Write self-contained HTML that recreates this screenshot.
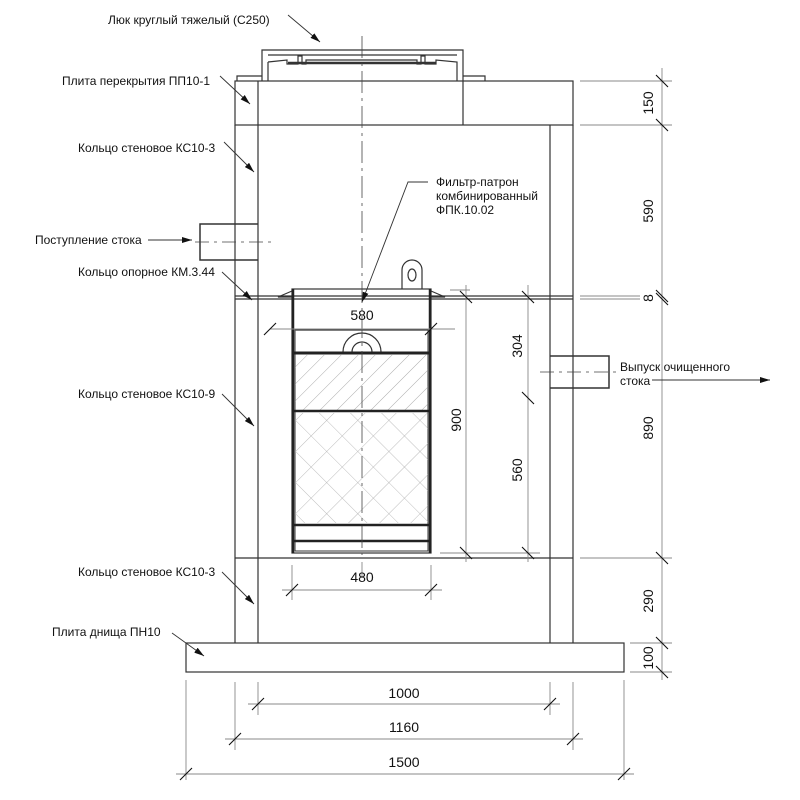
<!DOCTYPE html>
<html><head><meta charset="utf-8"><style>
html,body{margin:0;padding:0;background:#fff}
svg{display:block}
text{font-family:"Liberation Sans",sans-serif;fill:#111}
</style></head><body>
<svg width="800" height="800" viewBox="0 0 800 800" xmlns="http://www.w3.org/2000/svg">
<defs>
<pattern id="h1" width="12" height="12" patternUnits="userSpaceOnUse" patternTransform="rotate(45)"><line x1="0" y1="0" x2="0" y2="12" stroke="#999" stroke-width="0.8"/></pattern>
<pattern id="h2" width="22" height="22" patternUnits="userSpaceOnUse" patternTransform="rotate(45)"><line x1="0" y1="0" x2="0" y2="22" stroke="#aaa" stroke-width="0.8"/><line x1="0" y1="0" x2="22" y2="0" stroke="#aaa" stroke-width="0.8"/></pattern>
<marker id="ar" markerWidth="10" markerHeight="6" refX="10" refY="3" orient="auto" markerUnits="userSpaceOnUse"><path d="M0,0 L10,3 L0,6 z" fill="#111"/></marker>
</defs>
<g fill="none" stroke="#333" stroke-width="1.2">
<!-- hatch/manhole -->
<path d="M262,81 V50 H463 V81 M268,55 H457"/>
<path d="M237,81 V76 H262 M463,76 H485 V81"/>
<path d="M268,62 L287,60 L287,64 L298,64 V56 H302 V64 H306 V60 H417 V64 H421 V56 H425 V64 L436,64 V60 L457,62 V81 M268,62 V81"/>
<line x1="288" y1="63" x2="436" y2="63" stroke-width="2.5"/>
<!-- top slab -->
<rect x="235" y="81" width="338" height="44"/>
<line x1="258" y1="81" x2="258" y2="125"/>
<line x1="463" y1="81" x2="463" y2="125"/>
<!-- walls -->
<line x1="235" y1="125" x2="235" y2="643"/>
<line x1="258" y1="125" x2="258" y2="643"/>
<line x1="550" y1="125" x2="550" y2="643"/>
<line x1="573" y1="125" x2="573" y2="643"/>
<line x1="235" y1="558" x2="573" y2="558"/>
<!-- support ring -->
<line x1="235" y1="296" x2="573" y2="296"/>
<line x1="235" y1="299" x2="573" y2="299"/>
<!-- base -->
<rect x="186" y="643" width="438" height="29"/>
<!-- inlet pipe -->
<path d="M258,224 H200 V260 H258" stroke-width="1.5"/>
<!-- outlet pipe -->
<path d="M550,356 H609 V388 H550" stroke-width="1.5"/>
<!-- filter -->
<rect x="292" y="289" width="139" height="264"/>
<rect x="295" y="330" width="133" height="221" stroke-width="1"/>
<path d="M292,291 L278,297 H292 M431,291 L445,297 H431" />
<path d="M402,289 V270 A10,10 0 0 1 422,270 V289" />
<ellipse cx="412" cy="275" rx="4" ry="6"/>
<path d="M343,352 A19,19 0 0 1 381,352 M352,352 A10,10 0 0 1 372,352"/>
<line x1="296" y1="330" x2="427" y2="330"/>
</g>
<rect x="295" y="355" width="133" height="55" fill="url(#h1)"/>
<rect x="295" y="413" width="133" height="110" fill="url(#h2)"/>
<g stroke="#222" fill="none">
<line x1="292" y1="353" x2="431" y2="353" stroke-width="3"/>
<line x1="292" y1="411" x2="431" y2="411" stroke-width="2.5"/>
<line x1="292" y1="525" x2="431" y2="525" stroke-width="2.5"/>
<line x1="292" y1="541" x2="431" y2="541" stroke-width="2.5"/>
<line x1="293" y1="289" x2="293" y2="553" stroke-width="2.5"/>
<line x1="430" y1="289" x2="430" y2="553" stroke-width="2.5"/>
</g>
<!-- center lines -->
<g stroke="#444" stroke-width="0.8" fill="none" stroke-dasharray="22,5,3,5">
<line x1="362" y1="36" x2="362" y2="555"/>
</g>
<g stroke="#444" stroke-width="0.8" stroke-dasharray="14,5,3,5">
<line x1="195" y1="242" x2="275" y2="242"/>
<line x1="540" y1="372" x2="620" y2="372"/>
</g>
<!-- dimension lines -->
<g stroke="#888" stroke-width="0.9">
<line x1="662" y1="68" x2="662" y2="680"/>
<line x1="580" y1="81" x2="672" y2="81"/>
<line x1="580" y1="125" x2="672" y2="125"/>
<line x1="580" y1="296" x2="640" y2="296"/>
<line x1="580" y1="299" x2="640" y2="299"/>
<line x1="580" y1="558" x2="672" y2="558"/>
<line x1="630" y1="643" x2="672" y2="643"/>
<line x1="630" y1="672" x2="672" y2="672"/>
<line x1="466" y1="285" x2="466" y2="562"/>
<line x1="528" y1="285" x2="528" y2="562"/>
<line x1="440" y1="553" x2="540" y2="553"/>
<line x1="450" y1="290" x2="470" y2="290"/>
<line x1="270" y1="329" x2="455" y2="329"/>
<line x1="292" y1="565" x2="292" y2="600"/>
<line x1="431" y1="565" x2="431" y2="600"/>
<line x1="282" y1="590" x2="442" y2="590"/>
<line x1="186" y1="680" x2="186" y2="780"/>
<line x1="624" y1="680" x2="624" y2="780"/>
<line x1="235" y1="682" x2="235" y2="750"/>
<line x1="573" y1="682" x2="573" y2="750"/>
<line x1="258" y1="682" x2="258" y2="715"/>
<line x1="550" y1="682" x2="550" y2="715"/>
<line x1="248" y1="704" x2="560" y2="704"/>
<line x1="225" y1="739" x2="583" y2="739"/>
<line x1="176" y1="774" x2="634" y2="774"/>
<line x1="362" y1="562" x2="362" y2="578"/>
</g>
<g stroke="#111" stroke-width="1.1">
<path d="M656,75 l12,12 M656,119 l12,12 M656,290 l12,12 M656,293 l12,12 M656,552 l12,12 M656,637 l12,12 M656,666 l12,12"/>
<path d="M460,547 l12,12 M522,547 l12,12 M522,392 l12,12 M522,291 l12,12 M460,291 l12,12"/>
<path d="M264,335 l12,-12 M425,335 l12,-12 M286,596 l12,-12 M425,596 l12,-12"/>
<path d="M252,710 l12,-12 M544,710 l12,-12 M229,745 l12,-12 M567,745 l12,-12 M180,780 l12,-12 M618,780 l12,-12"/>
</g>
<!-- leaders -->
<g stroke="#333" stroke-width="0.9" fill="none" marker-end="url(#ar)">
<line x1="288" y1="15" x2="320" y2="42"/>
<line x1="220" y1="76" x2="250" y2="104"/>
<line x1="224" y1="142" x2="254" y2="172"/>
<line x1="148" y1="240" x2="192" y2="240"/>
<line x1="222" y1="272" x2="252" y2="300"/>
<line x1="222" y1="394" x2="254" y2="426"/>
<line x1="222" y1="572" x2="254" y2="604"/>
<line x1="172" y1="633" x2="204" y2="656"/>
<line x1="652" y1="380" x2="770" y2="380"/>
<path d="M428,182 H408 L362,302"/>
</g>
<g font-size="12">
<text x="108" y="24">Люк круглый тяжелый (С250)</text>
<text x="62" y="85">Плита перекрытия ПП10-1</text>
<text x="78" y="152">Кольцо стеновое КС10-3</text>
<text x="35" y="244">Поступление стока</text>
<text x="78" y="276">Кольцо опорное КМ.3.44</text>
<text x="78" y="398">Кольцо стеновое КС10-9</text>
<text x="78" y="576">Кольцо стеновое КС10-3</text>
<text x="52" y="636">Плита днища ПН10</text>
<text x="436" y="186">Фильтр-патрон</text>
<text x="436" y="200">комбинированный</text>
<text x="436" y="214">ФПК.10.02</text>
<text x="620" y="371">Выпуск очищенного</text>
<text x="620" y="385">стока</text>
</g>
<g font-size="14" text-anchor="middle">
<text x="362" y="320">580</text>
<text x="362" y="582">480</text>
<text x="404" y="698">1000</text>
<text x="404" y="732">1160</text>
<text x="404" y="767">1500</text>
<text transform="translate(653,103) rotate(-90)">150</text>
<text transform="translate(653,211) rotate(-90)">590</text>
<text transform="translate(653,298) rotate(-90)">8</text>
<text transform="translate(653,428) rotate(-90)">890</text>
<text transform="translate(653,601) rotate(-90)">290</text>
<text transform="translate(653,658) rotate(-90)">100</text>
<text transform="translate(461,420) rotate(-90)">900</text>
<text transform="translate(522,346) rotate(-90)">304</text>
<text transform="translate(522,470) rotate(-90)">560</text>
</g>
</svg>
</body></html>
